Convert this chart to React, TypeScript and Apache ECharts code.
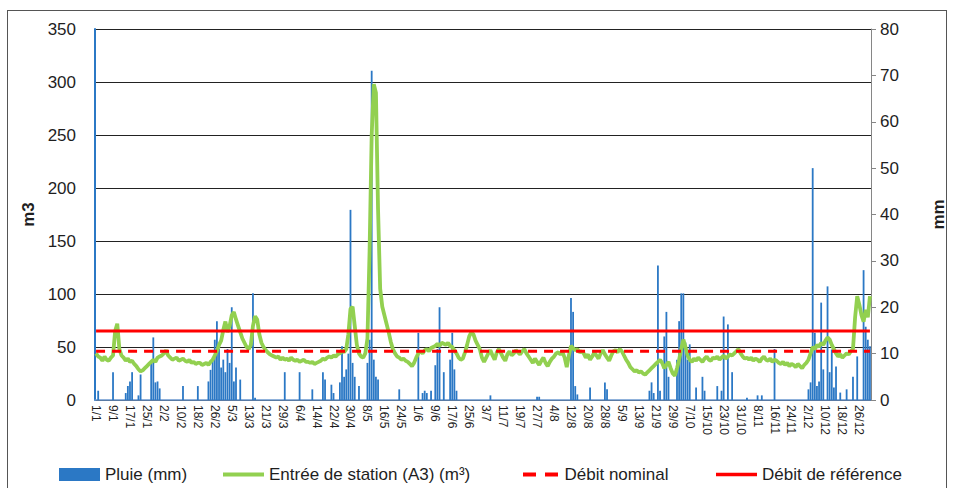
import React, { useEffect, useRef } from "react";
import * as echarts from "echarts";

// Calendar of a leap year, one category per day
const YEAR = 2012;
const DAYS = 366;
const categories: string[] = [];
for (let d = 0; d < DAYS; d++) {
  const dt = new Date(Date.UTC(YEAR, 0, 1 + d));
  categories.push(`${dt.getUTCDate()}/${dt.getUTCMonth() + 1}`);
}

// Daily rain (mm)
const rain: number[] = [
  0, 2, 0, 0, 0, 0, 0, 0, 6, 0,
  0, 0, 0, 0, 1.5, 3, 4, 6, 0, 0,
  1, 5.5, 0, 0, 0, 0, 8.5, 13.5, 3.8, 4,
  2.5, 0, 0, 0, 0, 0, 0, 0, 0, 0,
  0, 3, 0, 0, 0, 0, 0, 0, 3, 0,
  0, 0, 0, 4, 6.5, 8.7, 13, 17, 11, 7,
  8.7, 6, 11, 8, 20, 4, 7, 0, 4.4, 0,
  0, 0, 0, 0, 23, 0.5, 0, 0, 0, 0,
  0, 0, 0, 0, 0, 0, 0, 0, 0, 6,
  0, 0, 0, 0, 0, 0, 6, 0, 0, 0,
  0, 0, 2.3, 0, 0, 0, 0, 6, 4.4, 0,
  0, 3.3, 1.5, 0, 0, 3.8, 11.6, 5, 6.6, 10,
  41, 8, 5, 0, 3, 0, 0, 0, 8, 13,
  71, 8.7, 5, 4.4, 0, 0, 0, 0, 0, 0,
  0, 0, 0, 2.3, 0, 0, 0, 0, 0, 0,
  0, 0, 14.5, 0, 1.5, 2, 1.5, 0, 2, 0,
  7.5, 11, 20, 0, 6, 0, 0, 8.7, 14.5, 6.6,
  2, 0, 0, 0, 0, 0, 0, 0, 0, 0,
  0, 0, 0, 0, 0, 0, 1, 0, 0, 0,
  0, 0, 0, 0, 0, 0, 0, 0, 0, 0,
  0, 0, 0, 0, 0, 0, 0, 0, 0.7, 0.7,
  0, 0, 0, 0, 0, 0, 0, 0, 0, 0,
  0, 0, 0, 0, 22, 19, 3, 1.2, 0, 0,
  0, 0, 0, 2.7, 0, 0, 0, 0, 0, 0,
  3.8, 2.3, 0, 0, 0, 0, 0, 0, 0, 0,
  0, 0, 0, 0, 0, 0, 0, 0, 0, 0,
  0, 2, 3.8, 1.5, 0, 29, 2, 0, 13.7, 19,
  5, 0, 0, 0, 8.7, 17, 23, 23, 12.4, 8.7,
  12, 0, 0, 2.7, 0, 0, 5, 2, 0, 0,
  0, 0, 0, 3, 0, 2, 18, 0, 16.3, 0,
  6, 0, 0, 0, 0, 0, 0, 0.5, 0, 0,
  0, 0, 1, 0, 1, 0, 0, 0, 0, 0,
  11, 0, 0, 0, 0, 0, 0, 0, 0, 0,
  0, 0, 0, 0, 0, 0, 2.3, 3.8, 50, 14.5,
  3, 4, 21, 6.6, 0, 24.5, 6, 10.9, 2.7, 7.2,
  0, 1.6, 0, 0, 2.3, 0, 0, 5, 0, 9.4,
  0, 0, 28, 15.8, 13, 11.6,
];

// Daily station inflow (m3)
const inflow: number[] = [
  44, 41, 40, 37, 41, 38, 37, 40, 42, 65,
  72, 48, 42, 40, 37, 39, 36, 37, 34, 32,
  29, 27, 28, 30, 32, 34, 36, 38, 36, 40,
  41, 42, 44, 47, 42, 40, 38, 39, 40, 37,
  38, 39, 37, 36, 38, 35, 36, 34, 35, 35,
  33, 34, 35, 33, 36, 38, 42, 46, 52, 56,
  66, 74, 64, 70, 80, 83, 76, 70, 64, 58,
  54, 50, 48, 52, 70, 79, 76, 62, 54, 50,
  47, 45, 43, 42, 41, 40, 41, 38, 40, 38,
  39, 37, 40, 38, 37, 38, 36, 37, 38, 36,
  36, 35, 36, 34, 35, 36, 37, 39, 38, 40,
  41, 40, 42, 41, 43, 44, 47, 45, 48, 62,
  86, 88, 70, 52, 44, 41, 40, 44, 58, 140,
  250, 298, 290, 180, 105, 88, 80, 72, 64, 55,
  48, 44, 41, 40, 38, 39, 37, 36, 34, 32,
  35, 40, 44, 46, 44, 47, 48, 46, 49, 50,
  51, 53, 51, 54, 53, 52, 54, 51, 50, 47,
  44, 40, 38, 39, 45, 52, 60, 64, 62, 56,
  52, 48, 40, 36, 40, 44, 47, 42, 38, 45,
  48, 44, 40, 37, 43, 46, 42, 44, 47, 45,
  43, 46, 48, 44, 41, 38, 35, 39, 36, 33,
  37, 40, 35, 32, 36, 39, 41, 44, 45, 43,
  45, 40, 31, 42, 51, 49, 47, 48, 45, 46,
  44, 40, 43, 38, 41, 45, 42, 39, 44, 47,
  43, 40, 37, 42, 46, 47, 45, 48, 46, 42,
  38, 35, 31, 29, 27, 28, 26, 27, 25, 24,
  26, 28, 30, 32, 34, 36, 38, 35, 30, 33,
  36, 30, 25, 23, 30, 38, 48, 57, 50, 42,
  38, 36, 39, 37, 40, 38, 36, 39, 41, 38,
  37, 40, 39, 41, 38, 40, 42, 39, 41, 43,
  42, 44, 46, 48, 44, 41, 39, 40, 38, 40,
  37, 39, 38, 36, 39, 41, 38, 37, 39, 36,
  38, 37, 35, 34, 36, 33, 35, 32, 34, 33,
  31, 34, 32, 30, 33, 35, 38, 44, 50, 48,
  52, 50, 54, 52, 56, 59, 57, 52, 48, 44,
  41, 43, 40, 42, 44, 43, 46, 48, 78, 98,
  90, 80, 74, 85, 78, 98,
];

const DEBIT_NOMINAL = 46;
const DEBIT_REFERENCE = 65;

const LEFT_TICKS_MAX = 350;
const LEFT_TICKS_STEP = 50;
const RIGHT_TICKS_MAX = 80;
const RIGHT_TICKS_STEP = 10;

const FONT = "Liberation Sans";
const TXT = "#1e1e1e";

export default function App() {
  const ref = useRef<HTMLDivElement>(null);

  useEffect(() => {
    if (!ref.current) return;
    const chart = echarts.init(ref.current, null, { renderer: "svg" });
    const legendBase = {
      top: 461,
      itemWidth: 41,
      itemHeight: 4,
      itemGap: 0,
      textStyle: { fontSize: 17, color: TXT, fontFamily: FONT },
    };
    chart.setOption({
      animation: false,
      textStyle: { fontFamily: FONT },
      grid: { left: 95, right: 73, top: 29, bottom: 88 },
      legend: [
        { ...legendBase, data: [{ name: "Pluie (mm)", icon: "rect" }], left: 54, itemHeight: 13 },
        { ...legendBase, data: [{ name: "Entrée de station (A3) (m³)", icon: "rect" }], left: 218 },
        {
          ...legendBase,
          data: [{ name: "Débit nominal", icon: "path://M0,0h13v4h-13z M22,0h13v4h-13z" }],
          left: 518,
          itemWidth: 38,
        },
        { ...legendBase, data: [{ name: "Débit de référence", icon: "rect" }], left: 711, itemHeight: 3.5 },
      ],
      xAxis: {
        type: "category",
        data: categories,
        boundaryGap: true,
        axisLine: { lineStyle: { color: "#6b98cf", width: 1.5 } },
        axisTick: { show: false },
        axisLabel: {
          interval: 7,
          rotate: -90,
          fontSize: 12,
          color: TXT,
          margin: 5,
          fontFamily: FONT,
        },
        splitLine: { show: false },
      },
      yAxis: [
        {
          type: "value",
          min: 0,
          max: LEFT_TICKS_MAX,
          interval: LEFT_TICKS_STEP,
          name: "m3",
          nameLocation: "middle",
          nameRotate: 90,
          nameGap: 47,
          nameTextStyle: { fontSize: 17, fontWeight: "bold", color: TXT },
          axisLine: { show: true, lineStyle: { color: "#2b78c5", width: 2 } },
          axisTick: { show: false },
          axisLabel: { fontSize: 17, color: TXT, margin: 19 },
          splitLine: { show: true, lineStyle: { color: "#222", width: 1.2 } },
        },
        {
          type: "value",
          position: "right",
          min: 0,
          max: RIGHT_TICKS_MAX,
          interval: RIGHT_TICKS_STEP,
          name: "mm",
          nameLocation: "middle",
          nameRotate: 90,
          nameGap: 59,
          nameTextStyle: { fontSize: 17, fontWeight: "bold", color: TXT },
          axisLine: { show: true, lineStyle: { color: "#868686", width: 1 } },
          axisTick: { show: true, length: 5, inside: false, lineStyle: { color: "#868686" } },
          axisLabel: { fontSize: 17, color: TXT, margin: 9 },
          splitLine: { show: false },
        },
      ],
      series: [
        {
          name: "Pluie (mm)",
          type: "bar",
          yAxisIndex: 1,
          data: rain,
          barWidth: 1.8,
          itemStyle: { color: "#2b78c5" },
          z: 1,
        },
        {
          name: "Entrée de station (A3) (m³)",
          type: "line",
          yAxisIndex: 0,
          data: inflow,
          symbol: "none",
          lineStyle: { color: "#92d050", width: 3.8 },
          itemStyle: { color: "#92d050" },
          z: 2,
        },
        {
          name: "Débit nominal",
          type: "line",
          yAxisIndex: 0,
          data: categories.map(() => DEBIT_NOMINAL),
          symbol: "none",
          lineStyle: { color: "#ff0000", width: 3, type: [9, 7] },
          itemStyle: { color: "#ff0000" },
          z: 3,
        },
        {
          name: "Débit de référence",
          type: "line",
          yAxisIndex: 0,
          data: categories.map(() => DEBIT_REFERENCE),
          symbol: "none",
          lineStyle: { color: "#ff0000", width: 3 },
          itemStyle: { color: "#ff0000" },
          z: 3,
        },
      ],
    });
    return () => chart.dispose();
  }, []);

  return (
    <div style={{ position: "fixed", left: 0, top: 0, width: 955, height: 488, background: "#fff" }}>
      <div
        style={{
          position: "absolute",
          left: 7,
          top: 10,
          width: 940,
          height: 500,
          border: "1px solid #555",
          boxSizing: "border-box",
        }}
      />
      <div ref={ref} style={{ position: "absolute", left: 0, top: 0, width: 955, height: 488 }} />
    </div>
  );
}
